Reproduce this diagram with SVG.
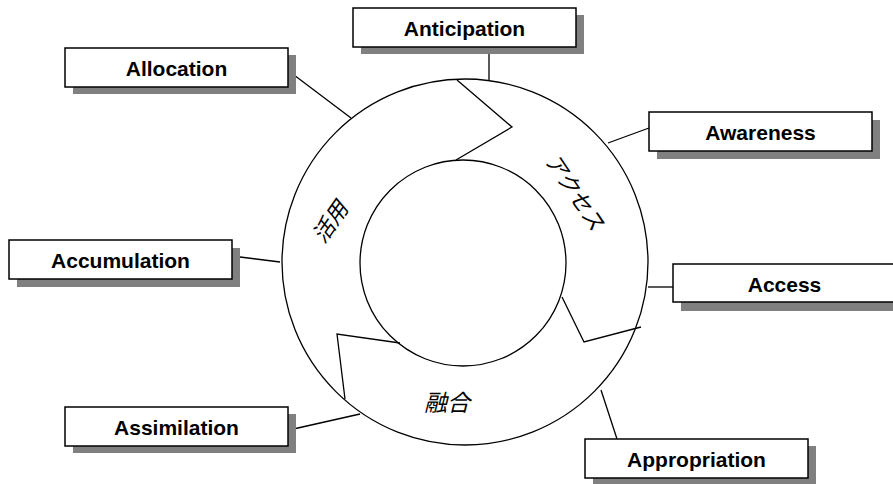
<svg xmlns="http://www.w3.org/2000/svg" width="893" height="484" viewBox="0 0 893 484">
<style>
.shadow{fill:#808080;stroke:none}
.box{fill:#ffffff;stroke:#000000;stroke-width:1.5}
.lbl{font-family:"Liberation Sans",Arial,sans-serif;font-weight:bold;font-size:21px;fill:#000000;text-anchor:middle}
.line{fill:none;stroke:#000000;stroke-width:1.3}
.jp{font-family:"Noto Sans CJK JP","Noto Sans CJK SC",sans-serif;font-style:italic;font-size:22px;fill:#000000;text-anchor:middle}
</style>
<rect width="893" height="484" fill="#ffffff"/>
<g id="cycle">
<circle class="line" cx="465" cy="262" r="183"/>
<circle class="line" cx="463" cy="263" r="103"/>
<polyline class="line" points="457,80 512,127 456,160"/>
<polyline class="line" points="562,297 584,342 641,327"/>
<polyline class="line" points="400,343 337,334 345,399"/>
<text class="jp" transform="translate(575,192) rotate(56)" y="8">アクセス</text>
<text class="jp" transform="translate(330,222) rotate(-55)" y="8">活用</text>
<text class="jp" x="447" y="411" style="font-size:23px">融合</text>
</g>
<g id="connectors">
<line class="line" x1="489" y1="47" x2="489" y2="80"/>
<line class="line" x1="290" y1="72" x2="351" y2="118"/>
<line class="line" x1="649" y1="128" x2="608" y2="143"/>
<line class="line" x1="232" y1="256" x2="280" y2="262"/>
<line class="line" x1="673" y1="287" x2="648" y2="287"/>
<line class="line" x1="289" y1="430" x2="360" y2="414"/>
<line class="line" x1="601" y1="390" x2="617" y2="439"/>
</g>
<g id="anticipation">
<rect class="shadow" x="361" y="15" width="223" height="39"/>
<rect class="box" x="353" y="8" width="223" height="39"/>
<text class="lbl" x="464.5" y="36">Anticipation</text>
</g>
<g id="allocation">
<rect class="shadow" x="73" y="55" width="223" height="39"/>
<rect class="box" x="65" y="48" width="223" height="39"/>
<text class="lbl" x="176.5" y="76">Allocation</text>
</g>
<g id="awareness">
<rect class="shadow" x="657" y="120" width="223" height="39"/>
<rect class="box" x="649" y="112" width="223" height="39"/>
<text class="lbl" x="760.5" y="140">Awareness</text>
</g>
<g id="accumulation">
<rect class="shadow" x="17" y="248" width="223" height="39"/>
<rect class="box" x="9" y="240" width="223" height="39"/>
<text class="lbl" x="120.5" y="268">Accumulation</text>
</g>
<g id="access">
<rect class="shadow" x="681" y="272" width="223" height="39"/>
<rect class="box" x="673" y="264" width="223" height="38"/>
<text class="lbl" x="784.5" y="292">Access</text>
</g>
<g id="assimilation">
<rect class="shadow" x="73" y="414" width="223" height="39"/>
<rect class="box" x="65" y="407" width="223" height="39"/>
<text class="lbl" x="176.5" y="435">Assimilation</text>
</g>
<g id="appropriation">
<rect class="shadow" x="593" y="446" width="223" height="39"/>
<rect class="box" x="585" y="439" width="223" height="39"/>
<text class="lbl" x="696.5" y="467">Appropriation</text>
</g>
</svg>
